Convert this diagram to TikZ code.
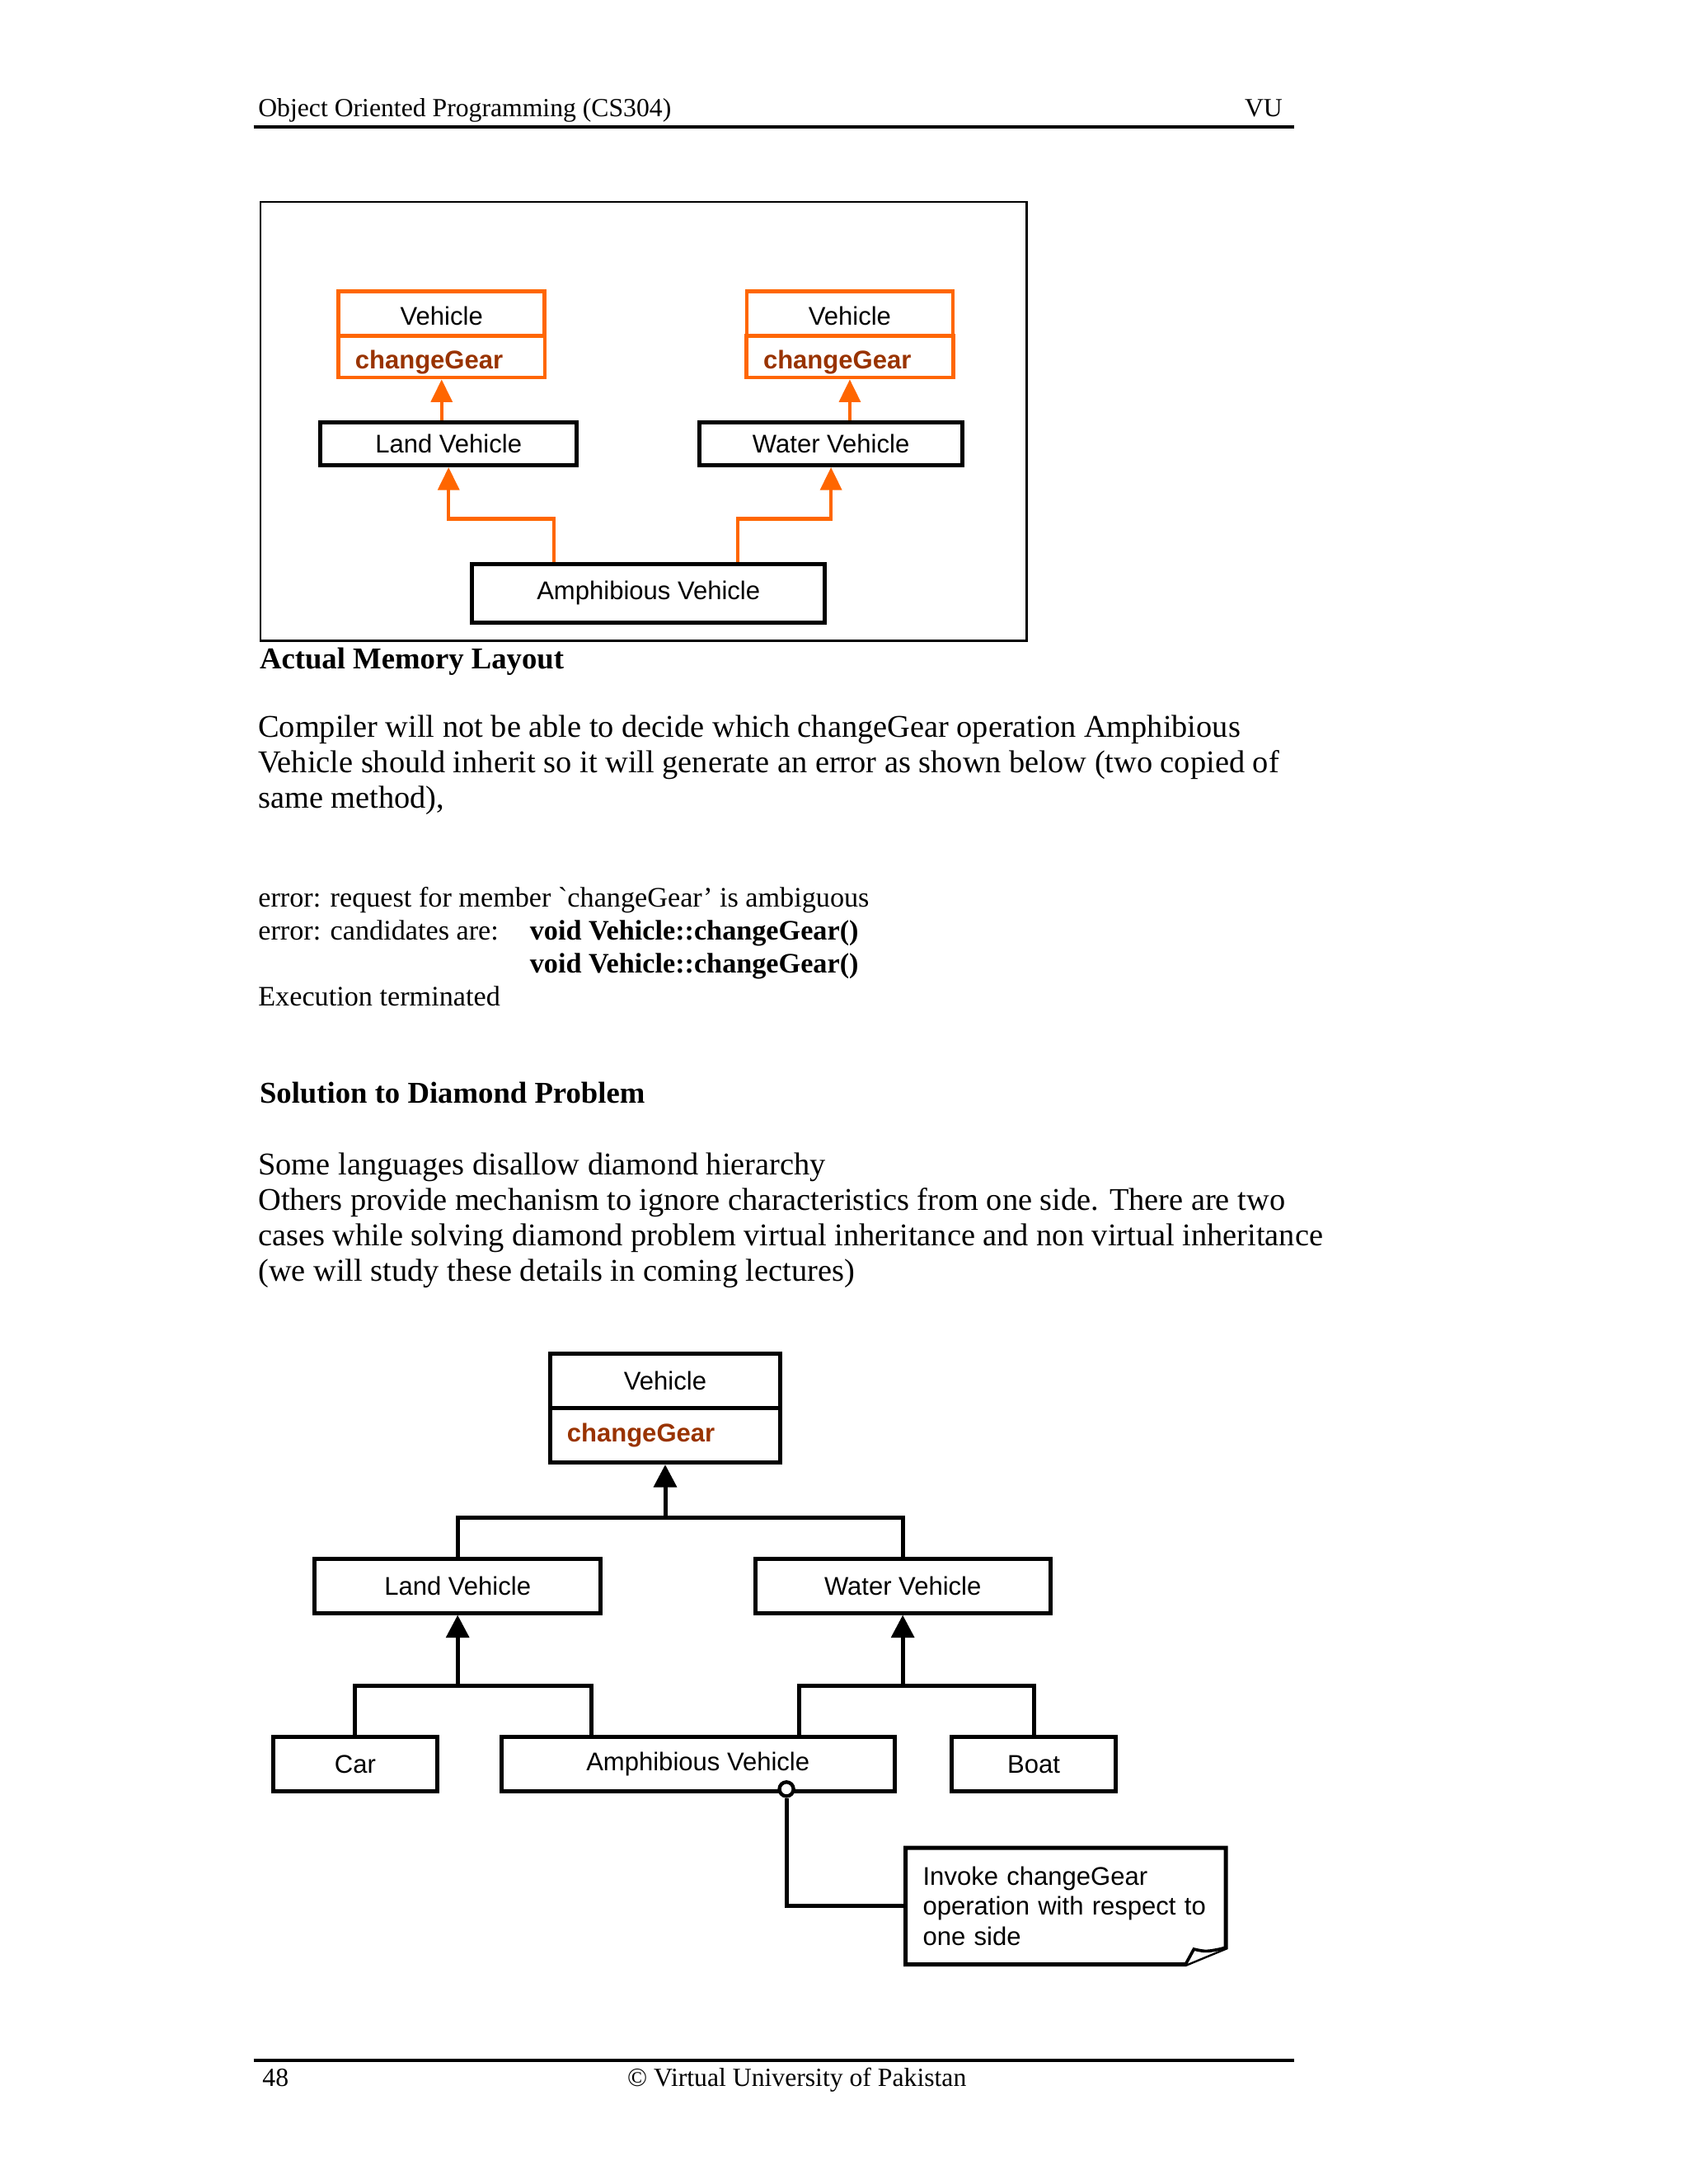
\documentclass[tikz,border=0pt]{standalone}
\usepackage{fontspec}
\setmainfont{Liberation Serif}
\newfontfamily\arialfont{Liberation Sans}
\usetikzlibrary{arrows.meta,calc,positioning}
\definecolor{vuorange}{RGB}{255,102,0}
\definecolor{gearbrown}{RGB}{153,51,0}
\def\u{0.178mm}
\tikzstyle{headtext}=[inner sep=0pt,font=\fontsize{9.5}{11}\selectfont]
\tikzstyle{bodytext}=[inner sep=0pt,anchor=base west,align=left,font=\fontsize{11.5}{12.9}\selectfont]
\tikzstyle{errtext}=[inner sep=0pt,anchor=base west,align=left,font=\fontsize{10.25}{12}\selectfont]
\tikzstyle{heading}=[inner sep=0pt,anchor=base west,font=\bfseries\fontsize{11}{12}\selectfont]
\tikzstyle{pagerule}=[draw,line width=1.2pt]
\tikzstyle{framebox}=[draw,line width=0.7pt]
\tikzstyle{classbox}=[draw,line width=1.5pt,inner sep=0pt,font=\arialfont\fontsize{9.3}{11}\selectfont]
\tikzstyle{oclassbox}=[classbox,draw=vuorange,line width=1.4pt,text height=3.1mm,text depth=0pt]
\tikzstyle{methodbox}=[align=left,inner xsep=2.14mm,text=gearbrown,font=\arialfont\bfseries\fontsize{9.3}{11}\selectfont]
\tikzstyle{oarrow}=[draw=vuorange,line width=1.3pt,-{Triangle[length=2.9mm,width=2.7mm]}]
\tikzstyle{barrow}=[draw,line width=1.5pt,-{Triangle[length=2.9mm,width=2.9mm]}]
\tikzstyle{link}=[draw,line width=1.5pt]
\tikzstyle{hookdot}=[circle,draw,fill=white,line width=1.3pt,minimum size=1.8mm,inner sep=0pt]
\tikzstyle{notetext}=[align=left,text width=36.5mm,inner xsep=2.14mm,inner ysep=0pt,minimum height=83*\u,font=\arialfont\fontsize{9.3}{10.9}\selectfont]
\tikzstyle{notebox}=[draw,line width=1.5pt,line join=miter]

\begin{document}
\begin{tikzpicture}[x=0.178mm,y=-0.178mm]
\useasboundingbox (0,0) rectangle (1212,1568);

% Page header
\node[headtext,anchor=base west] (title) at (185,84) {Object Oriented Programming (CS304)};
\node[headtext,anchor=base east] (vu) at (921,84) {VU};
\draw[pagerule] (182,91) -- (929,91);

% Actual memory layout
\draw[framebox] (187,145) rectangle (737,460);
\foreach \pos/\name in {{(317,225)/vehL},{(610,225)/vehR}}
  \node[oclassbox,minimum width=148*\u,minimum height=32*\u] (\name) at \pos {Vehicle};
\foreach \pos/\name in {{(317,256)/gearL},{(610,256)/gearR}}
  \node[oclassbox,methodbox,text width=22.1mm,minimum height=30*\u] (\name) at \pos {changeGear};
\foreach \pos/\name/\bw/\txt in {{(322,318.5)/landA/184/Land Vehicle},{(596.5,318.5)/waterA/189/Water Vehicle}}
  \node[classbox,minimum width=\bw*\u,minimum height=31*\u] (\name) at \pos {\txt};
\node[classbox,minimum width=253*\u,minimum height=42*\u] (amphA) at (465.5,426) {Amphibious Vehicle};

% Inheritance arrows (two copies of Vehicle)
\draw[oarrow] (gearL.south |- landA.north) -- (gearL.south);
\draw[oarrow] (gearR.south |- waterA.north) -- (gearR.south);
\draw[oarrow] ($(amphA.north west)+(60,0)$) -- ++(0,-31) -| (landA.south);
\draw[oarrow] ($(amphA.north east)+(-64,0)$) -- ++(0,-31) -| (waterA.south);

\node[heading] (cap1) at (186,480) {Actual Memory Layout};
\node[bodytext] (par1) at (185,580) {Compiler will not be able to decide which changeGear operation Amphibious\\
  Vehicle should inherit so it will generate an error as shown below (two copied of\\
  same method),};

% Compiler output
\node[errtext] (err) at (185,722) {error: request for member \textasciigrave changeGear' is ambiguous\\
  \makebox[34.7mm][l]{error: candidates are:}\textbf{void Vehicle::changeGear()}\\
  \hspace*{34.7mm}\textbf{void Vehicle::changeGear()}\\
  Execution terminated};

\node[heading] (cap2) at (186,792) {Solution to Diamond Problem};
\node[bodytext] (par2) at (185,920) {Some languages disallow diamond hierarchy\\
  Others provide mechanism to ignore characteristics from one side. There are two\\
  cases while solving diamond problem virtual inheritance and non virtual inheritance\\
  (we will study these details in coming lectures)};

% Diamond hierarchy
\node[classbox,minimum width=165*\u,minimum height=39*\u] (veh) at (477.5,991.5) {Vehicle};
\node[classbox,methodbox,text width=25.1mm,minimum height=39*\u] (gear) at (477.5,1030.5) {changeGear};
\foreach \pos/\name/\bw/\txt in {{(328.5,1138.5)/land/205/Land Vehicle},{(648,1138.5)/water/212/Water Vehicle},
    {(255,1266.5)/car/118/Car},{(501,1266.5)/amph/282/Amphibious Vehicle},{(742,1266.5)/boat/118/Boat}}
  \node[classbox,minimum width=\bw*\u,minimum height=39*\u] (\name) at \pos {\txt};

% Junctions of the inheritance trees
\coordinate (topj) at ($(gear.south)+(0,38)$);
\coordinate (landj) at ($(land.south)+(0,51)$);
\coordinate (waterj) at ($(water.south)+(0,51)$);

\draw[link] (land.north) |- (topj) -| (water.north);
\draw[barrow] (topj) -- (gear.south);
\draw[link] (car.north) |- (landj) -| ($(amph.north west)+(66,0)$);
\draw[barrow] (landj) -- (land.south);
\draw[link] ($(amph.north east)+(-70,0)$) |- (waterj) -| (boat.north);
\draw[barrow] (waterj) -- (water.south);

% Note
\node[notetext] (note) at (765,1368.5) {Invoke changeGear\\operation with respect to\\one side};
\node[hookdot] (hook) at ($(amph.south west)+(206,-3)$) {};
\draw[link] (hook.south) |- (note.west);
\draw[notebox] (note.north west) -- (note.north east) -- ($(note.south east)+(0,-12)$)
  -- ($(note.south east)+(-29,0)$) -- (note.south west) -- cycle;
\draw[notebox,line width=1.1pt,fill=white] ($(note.south east)+(-29,0)$) -- ($(note.south east)+(-23,-11)$)
  .. controls ($(note.south east)+(-14,-9)$) .. ($(note.south east)+(0,-12)$);

% Page footer
\draw[pagerule] (182,1479) -- (929,1479);
\node[headtext,anchor=base west] (pageno) at (188,1498) {48};
\node[headtext,anchor=base] (copy) at (572,1498) {© Virtual University of Pakistan};
\end{tikzpicture}
\end{document}
